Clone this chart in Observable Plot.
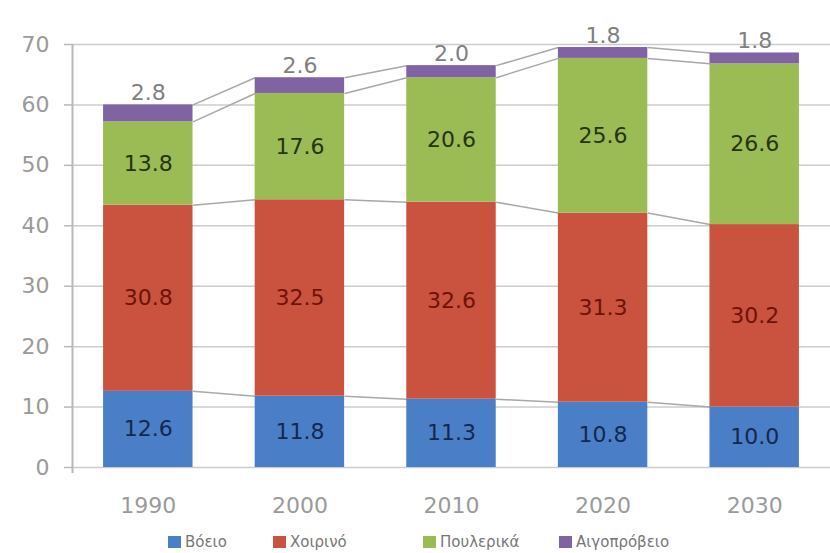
<!DOCTYPE html>
<html>
<head>
<meta charset="utf-8">
<script src="https://cdn.jsdelivr.net/npm/d3@7"></script>
<script src="https://cdn.jsdelivr.net/npm/@observablehq/plot@0.6"></script>
<style>
  body { margin: 0; background: #fff; font-family: "DejaVu Sans", sans-serif; overflow: hidden; }
  #chart svg { display: block; }
  #legend { position: relative; height: 21px; font-size: 15px; line-height: 17px; color: #777; }
  #legend span.item { position: absolute; top: 2px; white-space: nowrap; }
  #legend i { display: inline-block; width: 13px; height: 12px; margin-right: 4px; vertical-align: -1px; }
</style>
</head>
<body>
<div id="chart"></div>
<div id="legend"></div>
<script>
const years = [1990, 2000, 2010, 2020, 2030];
const series = ["Βόειο", "Χοιρινό", "Πουλερικά", "Αιγοπρόβειο"];
const beef    = [12.6, 11.8, 11.3, 10.8, 10.0];
const pork    = [30.8, 32.5, 32.6, 31.3, 30.2];
const poultry = [13.8, 17.6, 20.6, 25.6, 26.6];
const lamb    = [2.8, 2.6, 2.0, 1.8, 1.8];
const yTicks = [0, 10, 20, 30, 40, 50, 60, 70];

const colors = ["#4a7fc8", "#c9533f", "#9bbb55", "#7f63a3"];
const textColors = ["#14284f", "#6e1208", "#253511", "#808080"];
const halfW = 2.95; // half bar width in years

const values = [beef, pork, poultry, lamb];
const rows = [];
years.forEach((yr, i) => {
  let cum = 0;
  values.forEach((arr, s) => {
    const v = arr[i];
    rows.push({year: yr, idx: i, s, series: series[s], value: v, y1: cum, y2: cum + v, mid: cum + v / 2});
    cum += v;
  });
});
const links = [];
rows.forEach(r => {
  if (r.idx < years.length - 1) {
    const nxt = rows.find(q => q.idx === r.idx + 1 && q.s === r.s);
    links.push({x1: r.year + halfW, y1: r.y2, x2: nxt.year - halfW, y2: nxt.y2});
  }
});

const chart = Plot.plot({
  width: 830,
  height: 532,
  marginLeft: 72,
  marginRight: 0,
  marginTop: 44,
  marginBottom: 65,
  style: {fontFamily: "DejaVu Sans, sans-serif", background: "#fff"},
  x: {domain: [1985, 2035], axis: null},
  y: {domain: [0, 70], axis: null},
  color: {domain: series, range: colors},
  marks: [
    Plot.gridY(yTicks, {stroke: "#cccccc", strokeOpacity: 1, strokeWidth: 1.5}),
    Plot.ruleX([1985], {y1: -1, y2: 70, stroke: "#b8b8b8", strokeWidth: 2}),
    Plot.axisY(yTicks, {tickSize: 8, tickPadding: 15, fontSize: 22, stroke: "#b8b8b8", color: "#9a9a9a", tickFormat: d => String(d), strokeWidth: 1.5}),
    Plot.axisX(years, {tickSize: 0, tickPadding: 30, fontSize: 22, color: "#9a9a9a", tickFormat: d => String(d)}),
    Plot.link(links, {x1: "x1", y1: "y1", x2: "x2", y2: "y2", stroke: "#a8a8a8", strokeWidth: 1.5}),
    Plot.rectY(rows, {x1: d => d.year - halfW, x2: d => d.year + halfW, y1: "y1", y2: "y2", fill: "series"}),
    Plot.text(rows.filter(d => d.s < 3), {x: "year", y: "mid", text: d => d.value.toFixed(1), fill: d => textColors[d.s], fontSize: 22}),
    Plot.text(rows.filter(d => d.s === 3), {x: "year", y: "y2", dy: -12, text: d => d.value.toFixed(1), fill: textColors[3], fontSize: 22})
  ]
});
document.getElementById("chart").appendChild(chart);

const legendX = [168, 273, 423, 559];
const legend = document.getElementById("legend");
series.forEach((s, i) => {
  const span = document.createElement("span");
  span.className = "item";
  span.style.left = legendX[i] + "px";
  span.innerHTML = `<i style="background:${colors[i]}"></i>${s}`;
  legend.appendChild(span);
});
</script>
</body>
</html>
